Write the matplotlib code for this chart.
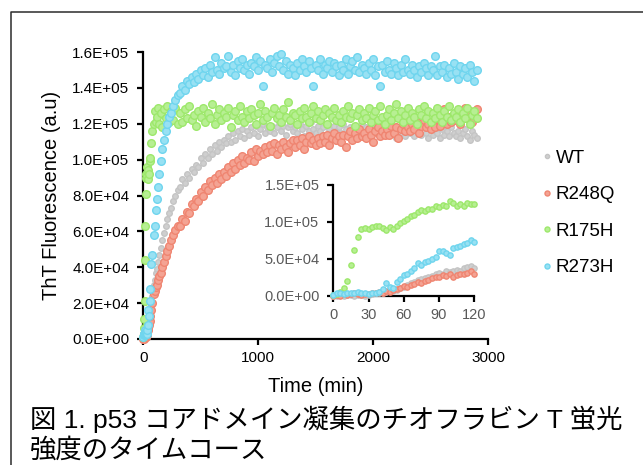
import numpy as np
import matplotlib
matplotlib.use("Agg")
import matplotlib.pyplot as plt
from matplotlib.lines import Line2D

plt.rcParams['font.family'] = ['Liberation Sans', 'Noto Sans CJK JP', 'DejaVu Sans']

# ---------------- data (fluorescence in units of 1e3 a.u.) ----------------
series_names = ["WT", "R248Q", "R175H", "R273H"]
series_colors = ["#c4c4c4", "#ef8571", "#9de86b", "#6fd5ee"]
series_faces = ["#cfcfcf", "#f4a393", "#b7ef93", "#98e1f3"]

t_early = [0, 3, 6, 9, 12, 15, 18, 21, 24, 27, 30, 35, 40, 45, 50, 55, 60, 70, 80, 90,
           100, 110, 120, 130, 140, 150, 165, 180, 195, 210, 225, 240, 260, 280, 300]
t_late = list(range(320, 2901, 20))
time_main = t_early + t_late

wt_main = [0, 1, 0, 1, 1, 1, 2, 1, 1, 2, 1, 3, 4, 5, 7, 9, 12, 19, 24, 30,
           33, 37, 39, 43, 47, 51, 55, 59, 63, 67, 70, 73, 77, 80, 83,
           85, 89, 87, 92, 90, 95, 93, 97, 96, 101,
           98, 103, 101, 106, 103, 108, 105, 110, 107, 111,
           109, 113, 110, 115, 111, 116, 113, 117, 112, 116,
           114, 118, 115, 119, 113, 117, 120, 115, 118, 116,
           119, 115, 118, 121, 116, 119, 114, 118, 120, 116,
           118, 115, 120, 117, 113, 119, 116, 121, 117, 115,
           119, 116, 118, 114, 120, 117, 115, 119, 116, 118,
           115, 120, 117, 113, 118, 116, 119, 114, 117, 120,
           116, 118, 114, 119, 115, 117, 120, 113, 118, 116,
           117, 114, 119, 116, 112, 118, 115, 117, 113, 119,
           115, 117, 113, 118, 116, 114, 119, 115, 112, 117,
           114, 118, 115, 112, 117, 114, 116, 113, 118, 115,
           113, 116, 112, 115, 117, 113, 111, 116, 114, 112]

r248q_main = [0, 1, 0, 2, 1, 2, 3, 2, 1, 2, 2, 3, 5, 6, 8, 10, 13, 16, 20, 25,
              27, 29, 30, 33, 35, 37, 40, 43, 46, 49, 52, 55, 58, 61, 63,
              63, 67, 66, 71, 70, 75, 74, 78, 77, 82,
              80, 85, 83, 88, 86, 90, 87, 92, 89, 93,
              91, 96, 93, 98, 95, 100, 97, 102, 98, 101,
              100, 104, 99, 106, 102, 105, 103, 107, 104, 108,
              105, 109, 103, 108, 106, 110, 107, 104, 109, 111,
              107, 111, 108, 112, 106, 110, 113, 109, 111, 108,
              112, 109, 113, 110, 114, 108, 112, 115, 111, 113,
              110, 114, 107, 113, 116, 111, 115, 112, 117, 113,
              115, 112, 117, 114, 110, 116, 118, 113, 116, 114,
              117, 114, 119, 115, 118, 112, 117, 120, 116, 118,
              116, 120, 117, 121, 115, 119, 122, 118, 120, 117,
              121, 118, 123, 119, 122, 128, 120, 124, 121, 125,
              122, 126, 120, 124, 129, 123, 127, 121, 125, 128]

r175h_main = [1, 3, 6, 11, 21, 44, 63, 81, 90, 92, 91, 96, 94, 89, 92, 99, 101, 109, 116, 120,
              127, 121, 124, 129, 120, 126, 118, 128, 123, 130, 121, 127, 122, 129, 120,
              126, 121, 128, 123, 130, 122, 125, 119, 127, 124,
              129, 121, 126, 123, 131, 120, 125, 128, 122, 126,
              124, 129, 118, 125, 127, 122, 130, 124, 121, 127,
              123, 128, 125, 120, 126, 131, 122, 127, 124, 119,
              126, 129, 123, 125, 121, 128, 124, 132, 122, 126,
              125, 120, 127, 123, 129, 124, 121, 126, 130, 123,
              127, 122, 125, 128, 120, 126, 124, 129, 122, 125,
              121, 127, 124, 130, 123, 126, 119, 125, 128, 122,
              126, 123, 129, 121, 125, 127, 122, 130, 124, 120,
              125, 128, 122, 126, 131, 123, 127, 121, 125, 129,
              122, 126, 124, 120, 128, 125, 130, 123, 127, 121,
              126, 123, 129, 125, 121, 127, 124, 130, 122, 126,
              124, 128, 121, 126, 123, 129, 120, 125, 127, 123]

r273h_main = [1, 3, 2, 3, 4, 3, 5, 4, 3, 4, 3, 5, 8, 16, 13, 21, 28, 42, 47, 58,
              63, 72, 78, 85, 92, 99, 106, 111, 116, 120, 124, 126, 130, 133, 136,
              137, 141, 139, 144, 142, 146, 143, 148, 145, 150,
              147, 151, 146, 153, 149, 157, 150, 148, 154, 151,
              152, 158, 149, 153, 147, 155, 151, 156, 150, 153,
              148, 154, 152, 157, 150, 155, 141, 153, 151, 156,
              149, 154, 158, 152, 159, 150, 155, 148, 153, 151,
              147, 154, 150, 156, 152, 149, 155, 151, 141, 153,
              150, 156, 148, 153, 151, 155, 149, 154, 152, 147,
              153, 150, 156, 148, 152, 155, 150, 157, 149, 153,
              151, 148, 154, 150, 156, 147, 152, 141, 153, 149,
              155, 150, 148, 154, 151, 147, 153, 149, 156, 150,
              148, 153, 150, 146, 152, 149, 154, 151, 147, 152,
              150, 158, 147, 152, 149, 153, 146, 151, 148, 154,
              149, 145, 152, 148, 151, 146, 153, 149, 144, 150]

time_inset = list(range(0, 121, 3))
wt_inset = [0, 0, 1, 0, 1, 1, 0, 1, 1, 0, 1, 2, 3, 3, 4, 5, 6, 7, 8, 10,
            12, 14, 17, 19, 21, 22, 24, 26, 27, 30, 31, 30, 33, 32, 34, 35, 34, 37, 39, 40, 37]
r248q_inset = [0, 1, 0, 2, 1, 2, 3, 2, 1, 2, 2, 3, 4, 5, 4, 6, 5, 8, 9, 11,
               13, 12, 15, 16, 18, 17, 20, 21, 24, 26, 25, 28, 27, 29, 26, 28, 30, 29, 31, 34, 29]
r175h_inset = [1, 2, 5, 10, 20, 42, 62, 80, 90, 92, 91, 93, 95, 94, 92, 89, 93, 91, 95, 99,
               101, 104, 108, 110, 114, 116, 115, 118, 117, 121, 120, 123, 122, 128, 125, 121,
               124, 122, 125, 124, 124]
r273h_inset = [1, 4, 3, 2, 3, 4, 4, 5, 3, 4, 2, 3, 4, 5, 9, 17, 12, 11, 18, 22,
               28, 30, 34, 37, 44, 42, 46, 47, 50, 52, 61, 60, 58, 55, 64, 66, 68, 70, 72, 76, 73]

main_values = [wt_main, r248q_main, r175h_main, r273h_main]
inset_values = [wt_inset, r248q_inset, r175h_inset, r273h_inset]
SCALE = 1000.0

main_yticks = [0, 20000, 40000, 60000, 80000, 100000, 120000, 140000, 160000]
main_xticks = [0, 1000, 2000, 3000]
inset_yticks = [0, 50000, 100000, 150000]
inset_xticks = [0, 30, 60, 90, 120]

caption_1 = "図 1. p53 コアドメイン凝集のチオフラビン T 蛍光"
caption_2 = "強度のタイムコース"

# ---------------- figure ----------------
W, H = 643, 465
fig = plt.figure(figsize=(W / 100, H / 100), dpi=100)

def fx(px):
    return px / W

def fy(py):
    return 1 - py / H

# outer frame (partially visible)
fig.add_artist(Line2D([fx(10.7), fx(10.7), fx(643)], [0, fy(11.7), fy(11.7)],
                      transform=fig.transFigure, color="#2b2b2b", lw=1.1))

ax = fig.add_axes([fx(143.3), fy(339), fx(488) - fx(143.3), fy(52) - fy(339)])
msizes_main = [4.0, 5.5, 5.5, 5.5]
for vals, c, fc, ms in zip(main_values, series_colors, series_faces, msizes_main):
    y = np.array(vals) * SCALE
    ax.plot(time_main, y, ls="none", marker="o", ms=ms, mfc=fc, mec=c, mew=1.0,
            clip_on=False, zorder=3)
ax.set_xlim(0, 3000)
ax.set_ylim(0, 160000)
ax.set_xticks(main_xticks)
ax.set_yticks(main_yticks)
ax.set_yticklabels(["{:.1E}".format(v) for v in main_yticks])
for s in ["top", "right"]:
    ax.spines[s].set_visible(False)
for s in ["left", "bottom"]:
    ax.spines[s].set_linewidth(1.6)
    ax.spines[s].set_color("black")
    ax.spines[s].set_zorder(2)
ax.tick_params(axis="both", direction="out", length=4, width=1.6, labelsize=11,
               colors="black")
ax.tick_params(axis="y", pad=6)
ax.tick_params(axis="x", pad=5)
ax.set_xlabel("Time (min)", fontsize=14.5, labelpad=8)
ax.set_ylabel("ThT Fluorescence (a.u)", fontsize=14.5, labelpad=8)
ax.patch.set_alpha(0)

# inset
ax2 = fig.add_axes([fx(333.3), fy(295.7), fx(474.3) - fx(333.3), fy(185) - fy(295.7)])
for vals, c, fc in zip(inset_values, series_colors, series_faces):
    y = np.array(vals) * SCALE
    ax2.plot(time_inset, y, ls="none", marker="o", ms=3.8, mfc=fc, mec=c, mew=1.0,
             clip_on=False, zorder=3)
ax2.set_xlim(0, 120)
ax2.set_ylim(0, 150000)
ax2.set_xticks(inset_xticks)
ax2.set_yticks(inset_yticks)
ax2.set_yticklabels(["{:.1E}".format(v) for v in inset_yticks])
for s in ["top", "right"]:
    ax2.spines[s].set_visible(False)
for s in ["left", "bottom"]:
    ax2.spines[s].set_linewidth(1.6)
    ax2.spines[s].set_color("black")
ax2.tick_params(axis="both", direction="out", length=4, width=1.6, labelsize=10.5,
                colors="black", labelcolor="#595959")
ax2.tick_params(axis="y", pad=6)
ax2.tick_params(axis="x", pad=5)
ax2.patch.set_alpha(0)

# legend
handles = [Line2D([], [], ls="none", marker="o", ms=(3.0 if i == 0 else 3.6),
                  mfc=series_faces[i], mec=series_colors[i], mew=1.0)
           for i in range(len(series_names))]
fig.legend(handles, series_names, loc="center left", bbox_to_anchor=(fx(526.5), fy(213)),
           frameon=False, fontsize=13.5, handlelength=0.4, handletextpad=0.25,
           labelspacing=1.03, borderpad=0.4)

# caption
fig.text(fx(30), fy(419), caption_1, fontsize=19, va="center", ha="left")
fig.text(fx(30), fy(450), caption_2, fontsize=19, va="center", ha="left")

fig.savefig("out.png", dpi=100)
